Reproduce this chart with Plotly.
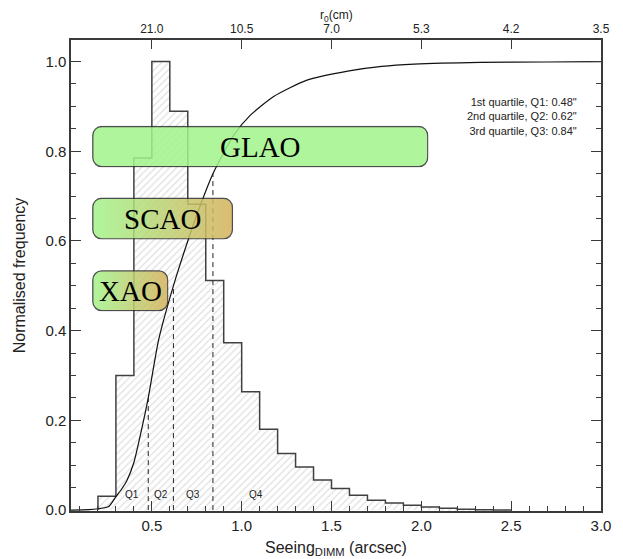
import base64
import plotly.graph_objects as go

# ---------------- data ----------------
bin_left = [0.2, 0.3, 0.4, 0.5, 0.6, 0.7, 0.8, 0.9, 1.0, 1.1, 1.2, 1.3, 1.4,
            1.5, 1.6, 1.7, 1.8, 1.9, 2.0, 2.1, 2.2, 2.3, 2.4]
bin_width = 0.1
freq = [0.031, 0.300, 0.785, 1.000, 0.889, 0.682, 0.512, 0.373, 0.264, 0.180,
        0.126, 0.096, 0.067, 0.048, 0.033, 0.022, 0.016, 0.011, 0.007, 0.004,
        0.002, 0.001, 0.0005]

cdf_x = [0.05, 0.15, 0.20, 0.26, 0.30, 0.33, 0.36, 0.40, 0.447, 0.48, 0.538,
         0.62, 0.702, 0.775, 0.84, 0.958, 1.05, 1.178, 1.36, 1.598, 1.78,
         1.96, 2.33, 2.69, 3.0]
cdf_y = [0.0, 0.001, 0.003, 0.008, 0.030, 0.046, 0.065, 0.106, 0.187, 0.25,
         0.38, 0.50, 0.602, 0.685, 0.75, 0.837, 0.881, 0.922, 0.958, 0.979,
         0.989, 0.994, 0.998, 0.999, 1.0]

quartile_x = [0.48, 0.62, 0.84]
quartile_level = [0.25, 0.50, 0.75]
quartile_labels = ["Q1", "Q2", "Q3", "Q4"]
quartile_label_x = [0.39, 0.55, 0.73, 1.08]

bottom_ticks = [0.5, 1.0, 1.5, 2.0, 2.5, 3.0]
top_tick_text = ["21.0", "10.5", "7.0", "5.3", "4.2", "3.5"]

ao_names = ["GLAO", "SCAO", "XAO"]
quartile_note = ["1st quartile, Q1: 0.48\"", "2nd quartile, Q2: 0.62\"",
                 "3rd quartile, Q3: 0.84\""]

# ---------------- layout constants ----------------
W, H = 623, 559
ML, MR, MT, MB = 71, 14, 40, 48
XR = [0.05, 3.0]
YR = [-0.002, 1.048]
PW = W - ML - MR
PH = H - MT - MB
px_per_x = PW / (XR[1] - XR[0])
px_per_y = PH / (YR[1] - YR[0])

boxes = {
    "GLAO": dict(x0=0.167, x1=2.04, y0=0.764, y1=0.857, c0="#a2f48b", c1="#a2f48b"),
    "SCAO": dict(x0=0.167, x1=0.953, y0=0.603, y1=0.697, c0="#a2f48b", c1="#d6b15a"),
    "XAO": dict(x0=0.167, x1=0.593, y0=0.443, y1=0.535, c0="#a2f48b", c1="#d6b15a"),
}

AX = "#3a3a3a"
SANS = "Liberation Sans, Arial, Helvetica, sans-serif"
SERIF = "Liberation Serif, Times New Roman, serif"


def box_svg(w, h, c0, c1):
    r = 9
    svg = (
        f'<svg xmlns="http://www.w3.org/2000/svg" width="{w:.1f}" height="{h:.1f}" '
        f'viewBox="0 0 {w:.1f} {h:.1f}" preserveAspectRatio="none">'
        f'<defs><linearGradient id="g" x1="0" y1="0" x2="1" y2="0">'
        f'<stop offset="0" stop-color="{c0}"/><stop offset="1" stop-color="{c1}"/>'
        f'</linearGradient></defs>'
        f'<rect x="0.8" y="0.8" width="{w-1.6:.1f}" height="{h-1.6:.1f}" rx="{r}" ry="{r}" '
        f'fill="url(#g)" stroke="#2e2e2e" stroke-width="1.3"/></svg>'
    )
    return "data:image/svg+xml;base64," + base64.b64encode(svg.encode()).decode()


fig = go.Figure()

# hatched histogram (fill only)
fig.add_trace(go.Bar(
    x=bin_left, y=freq, width=bin_width, offset=0,
    marker=dict(color="#ffffff", line=dict(width=0),
                pattern=dict(shape="/", fgcolor="#bdbdbd", bgcolor="#ffffff",
                             size=5, solidity=0.22)),
    hoverinfo="skip", showlegend=False,
))

# histogram outline as a step line
step_x = [bin_left[0]] + bin_left + [bin_left[-1] + bin_width]
step_y = [0] + freq + [0]
fig.add_trace(go.Scatter(
    x=step_x, y=step_y, mode="lines", line=dict(shape="hv", color="#404040", width=1.5),
    hoverinfo="skip", showlegend=False,
))

# cumulative distribution
fig.add_trace(go.Scatter(
    x=cdf_x, y=cdf_y, mode="lines",
    line=dict(color="#111111", width=1.2, shape="spline", smoothing=0.6),
    hoverinfo="skip", showlegend=False,
))

# quartile dashed lines
for qx, ql in zip(quartile_x, quartile_level):
    fig.add_trace(go.Scatter(
        x=[qx, qx], y=[0, ql], mode="lines",
        line=dict(color="#222222", width=1, dash="5px,4px"),
        hoverinfo="skip", showlegend=False,
    ))

# invisible trace to activate top axis
fig.add_trace(go.Scatter(x=[XR[0], XR[1]], y=[0, 0], xaxis="x2", mode="lines",
                         line=dict(width=0), opacity=0, hoverinfo="skip",
                         showlegend=False))

annotations = []
for lab, lx in zip(quartile_labels, quartile_label_x):
    annotations.append(dict(x=lx, y=0.034, xref="x", yref="y", text=lab,
                            showarrow=False, font=dict(family=SANS, size=10, color="#222")))

images = []
for name in ao_names:
    b = boxes[name]
    w = (b["x1"] - b["x0"]) * px_per_x
    h = (b["y1"] - b["y0"]) * px_per_y
    images.append(dict(source=box_svg(w, h, b["c0"], b["c1"]), xref="x", yref="y",
                       x=b["x0"], y=b["y1"], sizex=b["x1"] - b["x0"],
                       sizey=b["y1"] - b["y0"], sizing="stretch",
                       xanchor="left", yanchor="top", layer="above", opacity=0.85))
    annotations.append(dict(x=(b["x0"] + b["x1"]) / 2, y=(b["y0"] + b["y1"]) / 2,
                            xref="x", yref="y", text=name, showarrow=False,
                            font=dict(family=SERIF, size=29, color="#000")))

annotations.append(dict(x=2.88, y=0.927, xref="x", yref="y", xanchor="right",
                        yanchor="top", align="right", text="<br>".join(quartile_note),
                        showarrow=False, font=dict(family=SANS, size=11, color="#222")))

# axis titles
annotations.append(dict(x=0.5, y=-(H - 11 - (H - MB)) / PH, xref="paper", yref="paper",
                        text="Seeing<sub>DIMM</sub> (arcsec)", showarrow=False,
                        yanchor="middle", font=dict(family=SANS, size=16, color="#222")))
annotations.append(dict(x=-(ML - 19) / PW, y=0.5, xref="paper", yref="paper",
                        text="Normalised frequency", textangle=-90, showarrow=False,
                        xanchor="center", font=dict(family=SANS, size=16, color="#222")))
annotations.append(dict(x=0.5, y=1 + (MT - 16) / PH, xref="paper", yref="paper",
                        text="r<sub>0</sub>(cm)", showarrow=False, yanchor="middle",
                        font=dict(family=SANS, size=12, color="#222")))

fig.update_layout(
    width=W, height=H, margin=dict(l=ML, r=MR, t=MT, b=MB),
    paper_bgcolor="white", plot_bgcolor="white",
    bargap=0, showlegend=False,
    xaxis=dict(range=XR, tickmode="array", tickvals=bottom_ticks, tickformat=".1f",
               ticks="inside", ticklen=10, tickwidth=1.2, tickcolor=AX,
               showline=True, linecolor=AX, linewidth=1.5, mirror=True,
               showgrid=False, zeroline=False,
               minor=dict(tick0=0, dtick=0.1, ticks="inside", ticklen=5,
                          tickwidth=1, tickcolor=AX, showgrid=False),
               tickfont=dict(family=SANS, size=15, color="#222")),
    xaxis2=dict(range=XR, overlaying="x", side="top", anchor="y", tickmode="array",
                tickvals=bottom_ticks, ticktext=top_tick_text,
                ticks="inside", ticklen=9, tickwidth=1.2, tickcolor=AX,
                showline=True, linecolor=AX, linewidth=1.5,
                showgrid=False, zeroline=False,
                tickfont=dict(family=SANS, size=12, color="#222")),
    yaxis=dict(range=YR, tick0=0, dtick=0.2, tickformat=".1f",
               ticks="inside", ticklen=10, tickwidth=1.2, tickcolor=AX,
               showline=True, linecolor=AX, linewidth=1.5, mirror="ticks",
               showgrid=False, zeroline=False,
               minor=dict(tick0=0, dtick=0.05, ticks="inside", ticklen=5,
                          tickwidth=1, tickcolor=AX, showgrid=False),
               tickfont=dict(family=SANS, size=15, color="#222")),
    images=images,
    annotations=annotations,
)

fig.write_html("out.html", config={"displayModeBar": False},
               post_script="document.body.style.margin='0px';"
                           "document.body.style.overflow='hidden';")
